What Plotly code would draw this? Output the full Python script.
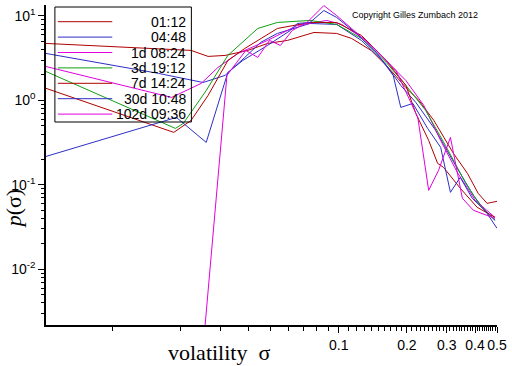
import math
import plotly.graph_objects as go

# ---------------- data ----------------
labels = ["01:12", "04:48", "1d 08:24", "3d 19:12", "7d 14:24", "30d 10:48", "102d 09:36"]
colors = ["#b00000", "#2e2ec8", "#e000e0", "#10a010", "#b00000", "#2e2ec8", "#e000e0"]

sigma_0112 = [0.0051, 0.0223, 0.0265, 0.0315, 0.0397, 0.0485, 0.0593, 0.0778, 0.098, 0.114, 0.139,
              0.167, 0.198, 0.226, 0.263, 0.321, 0.370, 0.413, 0.452, 0.500]
p_0112 = [4.73, 3.91, 3.32, 3.41, 3.91, 4.73, 5.13, 6.38, 6.21, 5.42, 3.91,
          2.39, 1.42, 1.0, 0.58, 0.236, 0.137, 0.0793, 0.0604, 0.0638]

sigma_0448 = [0.0051, 0.0160, 0.0252, 0.0315, 0.0385, 0.0452, 0.0536, 0.0747, 0.098, 0.126, 0.159,
              0.188, 0.219, 0.268, 0.328, 0.393, 0.452, 0.500]
p_0448 = [3.60, 2.09, 1.63, 1.98, 3.23, 4.86, 6.21, 8.15, 7.94, 5.13, 2.82,
          1.505, 0.947, 0.442, 0.170, 0.0751, 0.0460, 0.0305]

sigma_1d = [0.0051, 0.0183, 0.0247, 0.0293, 0.0359, 0.0485, 0.0656, 0.0886, 0.103, 0.1325, 0.170,
            0.198, 0.2375, 0.2818, 0.334, 0.4005, 0.4897]
p_1d = [2.52, 1.085, 1.589, 2.458, 3.60, 5.13, 7.72, 8.85, 7.94, 5.13, 2.60,
        1.72, 0.873, 0.336, 0.1406, 0.0656, 0.0412]

sigma_3d = [0.0051, 0.0190, 0.0206, 0.0260, 0.0324, 0.0439, 0.0536, 0.0747, 0.098, 0.126, 0.162,
            0.198, 0.242, 0.296, 0.362, 0.421, 0.490]
p_3d = [2.20, 0.466, 0.534, 1.31, 3.41, 7.11, 8.38, 8.85, 7.94, 5.42, 2.82,
        1.505, 0.762, 0.293, 0.107, 0.0572, 0.038]

sigma_7d = [0.0051, 0.0187, 0.0223, 0.0265, 0.0324, 0.0385, 0.0536, 0.0747, 0.098, 0.126, 0.162,
            0.198, 0.219, 0.2496, 0.2734, 0.2903, 0.3444, 0.4087, 0.490]
p_7d = [1.39, 0.418, 0.58, 1.146, 2.97, 4.125, 7.11, 8.38, 8.38, 5.88, 2.97,
        1.505, 0.702, 0.336, 0.1796, 0.161, 0.0909, 0.0542, 0.0412]

sigma_30d = [0.0051, 0.0192, 0.0260, 0.0324, 0.0377, 0.0485, 0.0611, 0.0656, 0.0747, 0.086, 0.098,
             0.1198, 0.1466, 0.174, 0.188, 0.2126, 0.247, 0.282, 0.3114, 0.344, 0.3886, 0.490]
p_30d = [0.217, 0.629, 0.318, 2.145, 2.97, 4.48, 6.73, 8.15, 8.38, 11.6, 9.6,
         6.21, 3.70, 1.98, 0.826, 0.921, 0.466, 0.278, 0.0815, 0.1227, 0.0694, 0.038]

sigma_102d = [0.0254, 0.0321, 0.0389, 0.0439, 0.0495, 0.0553, 0.0623, 0.0725, 0.086, 0.098, 0.114,
              0.1466, 0.179, 0.2235, 0.2496, 0.276, 0.3114, 0.3516, 0.3935, 0.490]
p_102d = [0.0015, 1.98, 3.91, 3.23, 5.13, 4.48, 6.73, 8.38, 13.3, 10.1, 7.11,
          3.91, 2.26, 0.629, 0.0861, 0.1485, 0.365, 0.0694, 0.0499, 0.0401]

x_major_ticks = [0.1, 0.2, 0.3, 0.4, 0.5]
x_major_text = ["0.1", "0.2", "0.3", "0.4", "0.5"]
x_minor_ticks = ([0.01, 0.02, 0.03, 0.04, 0.05, 0.06, 0.07, 0.08, 0.09]
                 + [round(0.11 + 0.01 * i, 2) for i in range(9)]
                 + [round(0.21 + 0.01 * i, 2) for i in range(29)
                    if round(0.21 + 0.01 * i, 2) not in (0.3, 0.4)])
y_major_ticks = [10, 1, 0.1, 0.01]
y_major_text = ["10<sup>1</sup>", "10<sup>0</sup>", "10<sup>-1</sup>", "10<sup>-2</sup>"]
y_minor_ticks = [m * d for d in (0.001, 0.01, 0.1, 1, 10) for m in range(2, 10)]

series = [
    (sigma_0112, p_0112), (sigma_0448, p_0448), (sigma_1d, p_1d), (sigma_3d, p_3d),
    (sigma_7d, p_7d), (sigma_30d, p_30d), (sigma_102d, p_102d),
]

# ---------------- figure ----------------
W, H = 512, 366
ML, MR, MT, MB = 46, 10, 5, 41
PW, PH = W - ML - MR, H - MT - MB

def px_x(x):
    return (x - ML) / PW

def px_y(y):
    return (H - MB - y) / PH

fig = go.Figure()
for (s, p), lab, col in zip(series, labels, colors):
    fig.add_trace(go.Scatter(x=s, y=p, mode="lines", name=lab,
                             line=dict(color=col, width=1), showlegend=False))

font_sans = "Liberation Sans, Arial, sans-serif"
font_serif = "Liberation Serif, Times New Roman, serif"

fig.update_layout(
    width=W, height=H,
    margin=dict(l=ML, r=MR, t=MT, b=MB),
    paper_bgcolor="white", plot_bgcolor="white",
    font=dict(family=font_sans, size=14, color="black"),
    xaxis=dict(
        type="log", range=[math.log10(0.0051), math.log10(0.5)],
        showgrid=False, zeroline=False, showline=True, linecolor="black", linewidth=1.5,
        ticks="outside", ticklen=6, tickwidth=1, tickcolor="black",
        tickvals=x_major_ticks, ticktext=x_major_text,
        tickfont=dict(family=font_sans, size=14, color="black"),
        minor=dict(tickvals=x_minor_ticks, ticks="outside", ticklen=4, tickcolor="black", showgrid=False),
    ),
    yaxis=dict(
        type="log", range=[-2.66, 1.13],
        showgrid=False, zeroline=False, showline=True, linecolor="black", linewidth=1.5,
        ticks="outside", ticklen=6, tickwidth=1, tickcolor="black",
        tickvals=y_major_ticks, ticktext=y_major_text,
        tickfont=dict(family=font_sans, size=14, color="black"),
        minor=dict(tickvals=y_minor_ticks, ticks="outside", ticklen=3, tickcolor="black", showgrid=False),
    ),
)

annotations = [
    dict(x=px_x(221), y=px_y(352), xref="paper", yref="paper", text="volatility\u00a0\u00a0σ",
         showarrow=False, font=dict(family=font_serif, size=22, color="black"),
         xanchor="center", yanchor="middle"),
    dict(x=px_x(13), y=px_y(208), xref="paper", yref="paper", text="<i>p</i>(σ)",
         showarrow=False, textangle=-90, font=dict(family=font_serif, size=22, color="black"),
         xanchor="center", yanchor="middle"),
    dict(x=px_x(419), y=px_y(15), xref="paper", yref="paper", text="Copyright Gilles Zumbach 2012",
         showarrow=False, font=dict(family=font_sans, size=9, color="black"),
         xanchor="center", yanchor="middle"),
]

shapes = [dict(type="rect", xref="paper", yref="paper",
               x0=px_x(55), x1=px_x(193), y0=px_y(122), y1=px_y(7),
               line=dict(color="black", width=1), fillcolor="rgba(0,0,0,0)")]

for i, (lab, col) in enumerate(zip(labels, colors)):
    yy = 21.7 + 15.4 * i
    shapes.append(dict(type="line", xref="paper", yref="paper",
                       x0=px_x(58), x1=px_x(113), y0=px_y(yy), y1=px_y(yy),
                       line=dict(color=col, width=1)))
    annotations.append(dict(x=px_x(190), y=px_y(yy), xref="paper", yref="paper", text=lab,
                            showarrow=False, xanchor="right", yanchor="middle",
                            font=dict(family=font_sans, size=14, color="black")))

fig.update_layout(annotations=annotations, shapes=shapes)
fig.write_html("out.html",
               config={"displayModeBar": False},
               post_script="document.body.style.margin='0px';document.body.style.padding='0px';")
